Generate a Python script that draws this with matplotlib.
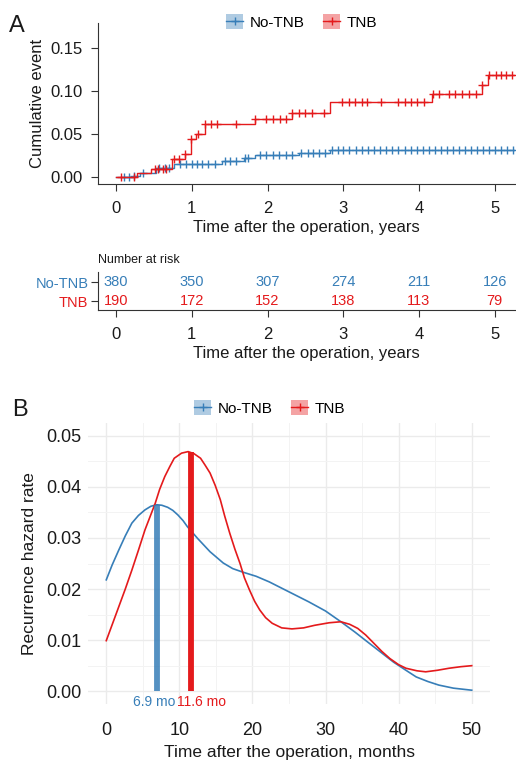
import matplotlib
matplotlib.use("Agg")
import matplotlib.pyplot as plt
import numpy as np
from matplotlib.patches import Patch
from matplotlib.lines import Line2D
from matplotlib.legend_handler import HandlerTuple

plt.rcParams['font.family'] = ['Liberation Sans', 'DejaVu Sans']

blue = '#377EB8'
red = '#E41A1C'
groups = ['No-TNB', 'TNB']

# panel A: cumulative event (step times / values) and censor times, years
blue_step_t = [0, 0.22, 0.31, 0.53, 0.77, 1.40, 1.69, 1.83, 2.41, 2.83]
blue_step_v = [0, 0.0015, 0.0043, 0.011, 0.015, 0.0187, 0.0222, 0.0254, 0.0283, 0.0315]
red_step_t = [0, 0.28, 0.46, 0.74, 0.915, 0.99, 1.06, 1.17, 1.83, 2.32, 2.83, 4.17, 4.83, 4.91]
red_step_v = [0, 0.0045, 0.0093, 0.0208, 0.0267, 0.0437, 0.050, 0.0615, 0.068, 0.0747,
              0.0868, 0.0965, 0.1066, 0.118]
blue_cens = [0.10, 0.17, 0.24, 0.35, 0.57, 0.64, 0.70, 0.84, 0.92, 1.0, 1.07, 1.14, 1.22,
             1.30, 1.44, 1.51, 1.59, 1.70, 1.74, 1.90, 1.98, 2.07, 2.15, 2.24, 2.33, 2.44,
             2.53, 2.60, 2.68, 2.76, 2.85, 2.93, 3.0, 3.08, 3.17, 3.25, 3.33, 3.41, 3.49,
             3.57, 3.65, 3.73, 3.81, 3.89, 3.97, 4.05, 4.13, 4.21, 4.29, 4.37, 4.45, 4.53,
             4.61, 4.69, 4.77, 4.85, 4.93, 5.01, 5.09, 5.17, 5.24]
red_cens = [0.07, 0.24, 0.51, 0.55, 0.62, 0.66, 0.76, 0.83, 0.915, 0.99, 1.08, 1.18, 1.25,
            1.33, 1.58, 1.83, 1.98, 2.07, 2.16, 2.25, 2.32, 2.41, 2.50, 2.59, 2.75, 2.99,
            3.08, 3.16, 3.25, 3.32, 3.50, 3.72, 3.81, 3.90, 3.98, 4.07, 4.19, 4.26, 4.40,
            4.48, 4.57, 4.66, 4.75, 4.84, 4.93, 5.02, 5.09, 5.15, 5.23]
t_end = 5.26

# number at risk
risk_times = [0, 1, 2, 3, 4, 5]
risk_blue = [380, 350, 307, 274, 211, 126]
risk_red = [190, 172, 152, 138, 113, 79]

# panel B: hazard curves, months
blue_haz_t = [0, 0.8, 1.7, 2.6, 3.5, 4.4, 5.3, 6.1, 6.9, 7.6, 8.4, 9.1, 9.8, 10.5, 11.1,
              12.5, 14.2, 16, 17.3, 18.7, 20.5, 22.3, 25.9, 27.7, 30, 32.1, 34, 35.7, 37.5,
              39.3, 41, 42.4, 44, 45.5, 47.5, 50]
blue_haz_v = [0.0218, 0.0247, 0.0276, 0.0304, 0.0329, 0.0344, 0.0355, 0.0362, 0.0365, 0.0364,
              0.0360, 0.0354, 0.0345, 0.0334, 0.0322, 0.0299, 0.0273, 0.0251, 0.0240, 0.0233,
              0.0225, 0.0214, 0.0188, 0.0175, 0.0157, 0.0136, 0.0116, 0.0097, 0.0077, 0.0057,
              0.0041, 0.0028, 0.0019, 0.0012, 0.0006, 0.0002]
red_haz_t = [0, 0.8, 1.7, 2.6, 3.5, 4.4, 5.3, 6.0, 6.7, 7.3, 8.0, 8.7, 9.3, 10.3, 11.2, 12.0,
             12.9, 13.5, 14.2, 14.9, 15.6, 16.2, 16.9, 17.6, 18.3, 18.9, 19.6, 20.3, 21.0,
             21.8, 22.7, 24, 25.4, 27, 28.5, 30.5, 32.1, 33.3, 34.4, 35.5, 36.6, 37.7,
             38.8, 40, 41, 42.5, 43.7, 45.3, 46.9, 48.5, 50]
red_haz_v = [0.0099, 0.0130, 0.0165, 0.0200, 0.0237, 0.0276, 0.0316, 0.0342, 0.0368, 0.0395,
             0.0420, 0.0440, 0.0456, 0.0466, 0.0469, 0.0465, 0.0456, 0.0443, 0.0427, 0.0403,
             0.0375, 0.0343, 0.0309, 0.0278, 0.0250, 0.0222, 0.0198, 0.0176, 0.0159, 0.0144,
             0.0133, 0.0124, 0.0122, 0.0124, 0.0129, 0.0134, 0.0136, 0.0131, 0.0123, 0.0110,
             0.0094, 0.0078, 0.0064, 0.0052, 0.0045, 0.0040, 0.0038, 0.0041, 0.0045, 0.0048,
             0.0050]
peak_t = [6.9, 11.6]
peak_v = [0.0365, 0.0469]
peak_labels = ['6.9 mo', '11.6 mo']

W, H = 516, 760
fig = plt.figure(figsize=(W / 100, H / 100), dpi=100)


def box(l, t, r, b):
    return [l / W, 1 - b / H, (r - l) / W, (b - t) / H]


txt = '#1a1a1a'

# ---- panel A
ax = fig.add_axes(box(98, 23, 515, 184))
for st, sv, cens, c in [(blue_step_t, blue_step_v, blue_cens, blue),
                        (red_step_t, red_step_v, red_cens, red)]:
    st2 = list(st) + [t_end]
    sv2 = list(sv) + [sv[-1]]
    ax.step(st2, sv2, where='post', color=c, lw=1.0)
    idx = np.searchsorted(st, cens, side='right') - 1
    ax.plot(cens, np.array(sv)[idx], ls='none', marker='+', ms=5.5, mew=1.0, color=c)
ax.set_xlim(-0.24, 5.27)
ax.set_ylim(-0.0081, 0.179)
ax.set_yticks([0, 0.05, 0.10, 0.15])
ax.set_yticklabels(['0.00', '0.05', '0.10', '0.15'])
ax.set_xticks(risk_times)
for s in ['top', 'right']:
    ax.spines[s].set_visible(False)
for s in ['left', 'bottom']:
    ax.spines[s].set_color('#333333')
ax.tick_params(labelsize=12, length=5, color='#333333', labelcolor=txt)
ax.tick_params(axis='x', pad=7)
ax.tick_params(axis='y', pad=6)
ax.set_xlabel('Time after the operation, years', fontsize=12, color=txt, labelpad=3)
ax.set_ylabel('Cumulative event', fontsize=12, color=txt, labelpad=4)

# ---- risk table
rt = fig.add_axes(box(98, 272, 515, 310))
for i, t in enumerate(risk_times):
    rt.text(t, 1, str(risk_blue[i]), color=blue, fontsize=10.5, ha='center', va='center')
    rt.text(t, 0, str(risk_red[i]), color=red, fontsize=10.5, ha='center', va='center')
rt.set_xlim(-0.24, 5.27)
rt.set_ylim(-0.47, 1.53)
rt.set_yticks([1, 0])
rt.set_yticklabels(groups)
for lab, c in zip(rt.get_yticklabels(), [blue, red]):
    lab.set_color(c)
rt.set_xticks(risk_times)
for s in ['top', 'right']:
    rt.spines[s].set_visible(False)
for s in ['left', 'bottom']:
    rt.spines[s].set_color('#333333')
rt.tick_params(labelsize=12, length=5, color='#333333')
rt.tick_params(axis='y', labelsize=10.5, pad=2)
rt.tick_params(axis='x', pad=7, labelcolor=txt)
rt.set_xlabel('Time after the operation, years', fontsize=12, color=txt, labelpad=3)
fig.text(98 / W, 1 - 260 / H, 'Number at risk', fontsize=9, color=txt, va='center')

# ---- panel B
bx = fig.add_axes(box(88, 423, 490, 704))
bx.plot(blue_haz_t, blue_haz_v, color=blue, lw=1.2, zorder=3)
bx.plot(red_haz_t, red_haz_v, color=red, lw=1.2, zorder=3)
for t, v, lab, c, a, tx in zip(peak_t, peak_v, peak_labels, [blue, red], [0.85, 1.0], [6.6, 13.0]):
    bx.vlines(t, 0, v, color=c, lw=4.2, alpha=a, zorder=4)
    bx.text(tx, -0.0022, lab, color=c, fontsize=10, ha='center', va='center', clip_on=False)
bx.set_xlim(-2.5, 52.5)
bx.set_ylim(-0.0025, 0.0525)
bx.set_xticks([0, 10, 20, 30, 40, 50])
bx.set_xticks([5, 15, 25, 35, 45], minor=True)
bx.set_yticks([0, 0.01, 0.02, 0.03, 0.04, 0.05])
bx.set_yticklabels(['0.00', '0.01', '0.02', '0.03', '0.04', '0.05'])
bx.set_yticks([0.005, 0.015, 0.025, 0.035, 0.045], minor=True)
bx.grid(which='major', color='#EBEBEB', lw=1.0)
bx.grid(which='minor', color='#F3F3F3', lw=0.7)
bx.set_axisbelow(True)
for s in bx.spines.values():
    s.set_visible(False)
bx.tick_params(which='both', length=0, labelsize=13, labelcolor=txt)
bx.tick_params(axis='x', pad=13)
bx.tick_params(axis='y', pad=5)
bx.set_xlabel('Time after the operation, months', fontsize=12.5, color=txt, labelpad=4)
bx.set_ylabel('Recurrence hazard rate', fontsize=12.5, color=txt, labelpad=6)


# legends
def handles():
    hs = []
    for c in [blue, red]:
        hs.append((Patch(facecolor=c, alpha=0.4, edgecolor='none'),
                   Line2D([], [], color=c, lw=1.0, marker='+', ms=6, mew=1.0)))
    return hs


for cx, cy in [(302, 22), (270, 408)]:
    fig.legend(handles(), groups, loc='center', bbox_to_anchor=(cx / W, 1 - cy / H),
               ncol=2, frameon=False, fontsize=11, handlelength=1.1, handleheight=1.1,
               handletextpad=0.45, columnspacing=1.2,
               handler_map={tuple: HandlerTuple(ndivide=1)})

fig.text(17 / W, 1 - 26 / H, 'A', fontsize=17, ha='center', va='center', color=txt)
fig.text(20 / W, 1 - 410 / H, 'B', fontsize=17, ha='center', va='center', color=txt)

fig.savefig('out.png', dpi=100)
